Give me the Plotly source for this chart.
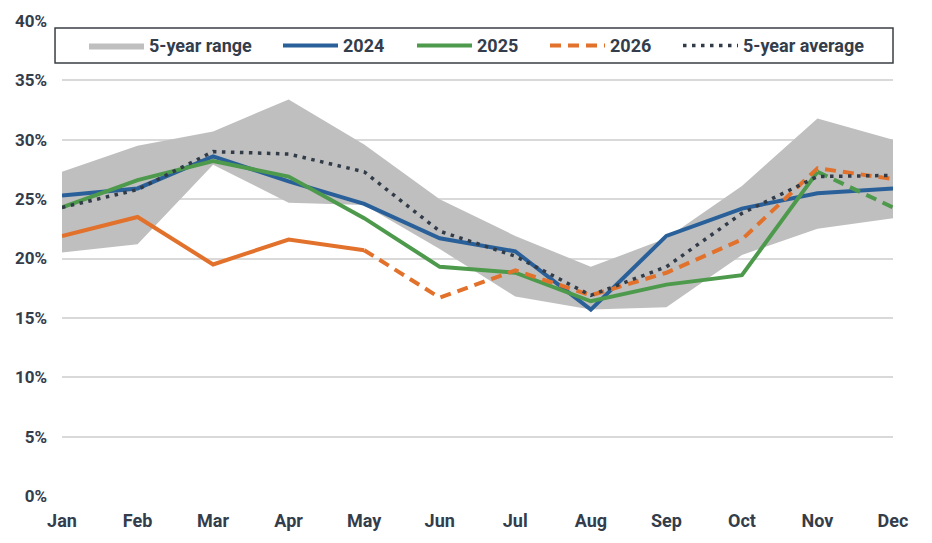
import plotly.graph_objects as go

months = ["Jan", "Feb", "Mar", "Apr", "May", "Jun", "Jul", "Aug", "Sep", "Oct", "Nov", "Dec"]
range_upper = [27.3, 29.5, 30.7, 33.4, 29.6, 25.0, 21.9, 19.3, 21.7, 26.1, 31.8, 30.0]
range_lower = [20.5, 21.2, 27.9, 24.7, 24.5, 20.8, 16.8, 15.7, 15.9, 20.3, 22.5, 23.4]
y2024 = [25.3, 25.9, 28.6, 26.5, 24.6, 21.7, 20.6, 15.7, 21.9, 24.2, 25.5, 25.9]
y2025 = [24.3, 26.6, 28.2, 26.9, 23.4, 19.3, 18.8, 16.4, 17.8, 18.6, 27.3, 24.3]
y2026 = [21.9, 23.5, 19.5, 21.6, 20.7, 16.7, 19.0, 16.9, 18.8, 21.6, 27.6, 26.7]
avg5 = [24.3, 25.8, 29.0, 28.8, 27.3, 22.3, 20.2, 16.9, 19.3, 23.8, 26.9, 27.0]
y_ticks = [0, 5, 10, 15, 20, 25, 30, 35, 40]
y_tick_labels = [f"{t}%" for t in y_ticks]

solid_2025_end = 10   # Nov index: solid through Nov, dashed Nov-Dec
solid_2026_end = 4    # May index: solid through May, dashed after

BLUE = "#2a6099"
GREEN = "#4e9a4c"
ORANGE = "#e2712b"
DARK = "#323c49"
GRAY = "#bfbfbf"
TXT = "#333d4b"

x = list(range(len(months)))

def seg(vals, start, end):
    return [v if start <= i <= end else None for i, v in enumerate(vals)]

fig = go.Figure()
fig.add_trace(go.Scatter(x=x, y=range_lower, mode="lines", line=dict(width=0, color=GRAY),
                         showlegend=False, hoverinfo="skip"))
fig.add_trace(go.Scatter(x=x, y=range_upper, mode="lines", line=dict(width=0, color=GRAY),
                         fill="tonexty", fillcolor=GRAY, name="5-year range", legend="legend"))
fig.add_trace(go.Scatter(x=x, y=y2024, mode="lines", line=dict(width=4, color=BLUE), name="2024",
                         legend="legend2"))
fig.add_trace(go.Scatter(x=x, y=seg(y2025, 0, solid_2025_end), mode="lines",
                         line=dict(width=4, color=GREEN), name="2025", legend="legend3"))
fig.add_trace(go.Scatter(x=x, y=seg(y2025, solid_2025_end, 11), mode="lines",
                         line=dict(width=4, color=GREEN, dash="11px,7px"), showlegend=False))
fig.add_trace(go.Scatter(x=x, y=seg(y2026, 0, solid_2026_end), mode="lines",
                         line=dict(width=4, color=ORANGE), showlegend=False))
fig.add_trace(go.Scatter(x=x, y=seg(y2026, solid_2026_end, 11), mode="lines",
                         line=dict(width=4, color=ORANGE, dash="11px,7px"), name="2026",
                         legend="legend4"))
fig.add_trace(go.Scatter(x=x, y=avg5, mode="lines",
                         line=dict(width=3.5, color=DARK, dash="3.5px,5.5px"), name="5-year average",
                         legend="legend5"))

PW = 831.0
def leg(px):
    return dict(orientation="h", x=(px - 62) / PW, y=0.948, xanchor="left", yanchor="middle",
                bgcolor="rgba(0,0,0,0)", itemwidth=55,
                font=dict(family="Roboto", size=18, color=TXT, weight="bold"))

fig.update_layout(
    width=932, height=543,
    margin=dict(l=62, r=39, t=21, b=47),
    plot_bgcolor="white", paper_bgcolor="white",
    font=dict(family="Roboto", size=16, color=TXT),
    showlegend=True,
    legend=leg(84), legend2=leg(278), legend3=leg(412), legend4=leg(545), legend5=leg(678),
    shapes=[dict(type="rect", xref="paper", yref="paper", x0=-0.0084, x1=1.0, y0=0.9116, y1=0.9853,
                 line=dict(color="#3a3f46", width=1.5), fillcolor="white", layer="above")],
)
fig.update_xaxes(tickmode="array", tickvals=x, ticktext=months, range=[0, 11], showgrid=False,
                 zeroline=False, showline=False, ticks="", ticklabelstandoff=12,
                 tickfont=dict(family="Roboto", size=18, color=TXT, weight="bold"))
fig.update_yaxes(range=[0, 40], tickmode="array", tickvals=y_ticks, ticktext=y_tick_labels,
                 showgrid=True, gridcolor="#d9d9d9", gridwidth=1.5, zeroline=False, showline=False,
                 ticks="", ticklabelstandoff=14,
                 tickfont=dict(family="Roboto", size=17, color=TXT, weight="bold"))

fig.write_html("out.html")
